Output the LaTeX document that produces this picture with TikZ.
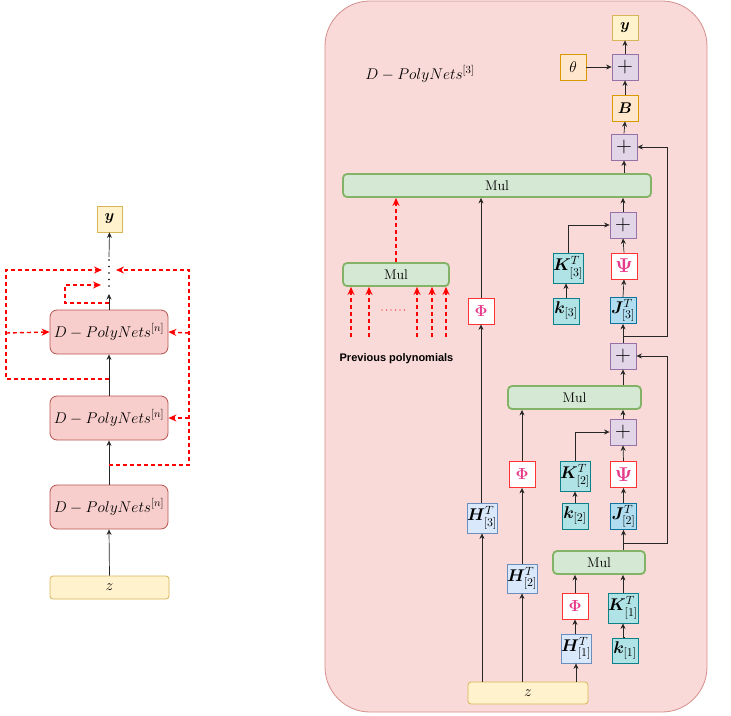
\documentclass[tikz,border=0pt]{standalone}
\usepackage{fix-cm}
\usepackage{amsmath,bm}
\usepackage{fontspec}
\newfontfamily\helv{Liberation Sans}
\usetikzlibrary{arrows.meta}
\definecolor{yelF}{HTML}{FFF2CC}\definecolor{yelD}{HTML}{D6B656}
\definecolor{redF}{HTML}{F8CECC}\definecolor{redD}{HTML}{B85450}
\definecolor{bigF}{HTML}{FADAD8}\definecolor{bigD}{HTML}{D38F8C}
\definecolor{purF}{HTML}{E1D5E7}\definecolor{purD}{HTML}{9673A6}
\definecolor{orF}{HTML}{FFE6CC}\definecolor{orD}{HTML}{D79B00}
\definecolor{grF}{HTML}{D5E8D4}\definecolor{grD}{HTML}{82B366}
\definecolor{blF}{HTML}{DAE8FC}\definecolor{blD}{HTML}{6C8EBF}
\definecolor{teF}{HTML}{B0E3E6}\definecolor{teD}{HTML}{0E8088}
\definecolor{jF}{HTML}{B1DDF0}\definecolor{jD}{HTML}{10739E}
\definecolor{fR}{HTML}{FF3333}\definecolor{pinkT}{HTML}{E63B8A}
\begin{document}
\begin{tikzpicture}[x=1pt,y=-1pt,font=\fontsize{14}{17}\selectfont,
  >={Stealth[length=5.5pt,width=5pt]},
  ln/.style={draw=black!85,line width=0.7pt},
  arr/.style={ln,->},
  rdl/.style={draw=red,line width=1.4pt,dash pattern=on 4pt off 3pt},
  rd/.style={rdl,-{Stealth[length=8pt,width=7pt]}},
  bx/.style={draw,line width=0.8pt,inner sep=0pt,minimum width=26pt,minimum height=26pt},
  lab/.style={font=\fontsize{17}{19}\selectfont},
  big/.style={font=\fontsize{15.5}{18}\selectfont},
  yel/.style={bx,fill=yelF,draw=yelD},
  redb/.style={bx,big,fill=redF,draw=redD,rounded corners=7pt,minimum width=118pt,minimum height=44pt},
  pur/.style={bx,fill=purF,draw=purD},
  ora/.style={bx,fill=orF,draw=orD},
  grn/.style={bx,fill=grF,draw=grD,line width=1.8pt,rounded corners=4pt,minimum height=23pt},
  blu/.style={bx,lab,fill=blF,draw=blD,minimum width=30pt,minimum height=30pt},
  tea/.style={bx,lab,fill=teF,draw=teD},
  jbx/.style={bx,lab,fill=jF,draw=jD},
  fn/.style={bx,fill=white,draw=fR,text=pinkT,font=\fontsize{16}{16}\selectfont},
  plus/.style={pur,font=\fontsize{22}{22}\selectfont}
]
\useasboundingbox (0,0) rectangle (731,715);
% ---------------- left ----------------
\node[yel,big,minimum width=25pt] (ly) at (109.5,219) {$\bm{y}$};
\node[redb] (lb1) at (109,332) {$D-PolyNets^{[n]}$};
\node[redb] (lb2) at (109,418) {$D-PolyNets^{[n]}$};
\node[redb] (lb3) at (109,507) {$D-PolyNets^{[n]}$};
\node[yel,big,rounded corners=3pt,minimum width=119pt,minimum height=23pt] (lz) at (109.5,587.5) {$z$};
\coordinate (dtop) at (109,257);
\coordinate (dbot) at (109,294);
\draw[black,line width=1.6pt,line cap=round,dash pattern=on 0pt off 6.5pt] (109,260) -- (109,292);
\draw[arr] (lb1.north) -- (dbot);
\draw[arr] (dtop) -- (ly.south);
\draw[arr] (lb2.north) -- (lb1.south);
\draw[arr] (lb3.north) -- (lb2.south);
\draw[arr] (lz.north) -- (lb3.south);
\coordinate (la) at (109,379);
\coordinate (lt1) at (102,270);
\coordinate (lt2) at (101,285);
\coordinate (lt3) at (116,270);
\coordinate (ls) at (109,303);
\coordinate (lr) at (109,465);
\draw[rd] (la) -- (6,379) -- (6,270) -- (lt1);
\draw[rd] (6,333) -- (lb1.west);
\draw[rd] (ls) -- (65,303) -- (65,285) -- (lt2);
\draw[rd] (lr) -- (189,465) -- (189,270) -- (lt3);
\draw[rd] (189,333) -- (lb1.east);
\draw[rd] (189,418) -- (lb2.east);
% ---------------- right ----------------
\draw[fill=bigF,draw=bigD,line width=0.8pt,rounded corners=45pt] (325,1) rectangle (707,712);
\node[big] (title) at (420,74) {$D-PolyNets^{[3]}$};
\node[yel,big,minimum height=25pt] (ry) at (625,27.5) {$\bm{y}$};
\node[plus] (p1) at (625,67) {$+$};
\node[ora,big] (th) at (573,67) {$\theta$};
\node[ora,big] (B) at (625,108) {$\bm{B}$};
\node[plus] (p2) at (624,147) {$+$};
\node[grn,minimum width=308pt] (m3) at (497,185.5) {Mul};
\node[plus] (p3) at (623,225) {$+$};
\node[fn,font=\fontsize{20}{20}\selectfont] (psi3) at (624,266) {$\bm{\Psi}$};
\node[jbx] (J3) at (623,310.5) {$\bm{J}^T_{[3]}$};
\node[tea,minimum width=30pt,minimum height=30pt] (K3) at (568,268) {$\bm{K}^T_{[3]}$};
\node[tea] (k3) at (566,311) {$\bm{k}_{[3]}$};
\node[fn] (phi3) at (481,311) {$\bm{\Phi}$};
\node[grn,minimum width=106pt] (mS) at (396,274.5) {Mul};
\node[font=\helv\bfseries\fontsize{11}{13}\selectfont] (prev) at (396.5,359) {Previous polynomials};
\node[plus] (p4) at (623,356) {$+$};
\node[grn,minimum width=133pt] (m2) at (574.5,397.5) {Mul};
\node[plus] (p5) at (623,432) {$+$};
\node[fn] (phi2) at (522,474.5) {$\bm{\Phi}$};
\node[tea,minimum width=30pt,minimum height=30pt] (K2) at (575,476) {$\bm{K}^T_{[2]}$};
\node[fn,font=\fontsize{20}{20}\selectfont] (psi2) at (623.5,474.5) {$\bm{\Psi}$};
\node[tea] (k2) at (575,516) {$\bm{k}_{[2]}$};
\node[jbx] (J2) at (623.5,516.5) {$\bm{J}^T_{[2]}$};
\node[blu] (H3) at (482,518) {$\bm{H}^T_{[3]}$};
\node[grn,minimum width=92pt] (m1) at (599,562.5) {Mul};
\node[blu,minimum height=29pt] (H2) at (522,578.5) {$\bm{H}^T_{[2]}$};
\node[fn] (phi1) at (575,606) {$\bm{\Phi}$};
\node[tea,minimum width=30pt,minimum height=30pt] (K1) at (623,608) {$\bm{K}^T_{[1]}$};
\node[blu,minimum height=29pt] (H1) at (576,648.5) {$\bm{H}^T_{[1]}$};
\node[tea,minimum height=25pt] (k1) at (625,650.5) {$\bm{k}_{[1]}$};
\node[yel,big,rounded corners=3pt,minimum width=120pt,minimum height=22pt] (rz) at (528,693) {$z$};
% connectors
\draw[arr] (th.east) -- (p1.west);
\draw[arr] (p1.north) -- (ry.south);
\draw[arr] (B.north) -- (p1.south);
\draw[arr] (p2.north) -- (B.south);
\draw[arr] (p2.south |- m3.north) -- (p2.south);
\draw[arr] (p3.north) -- (p3.north |- m3.south);
\draw[arr] (psi3.north) -- (p3.south);
\draw[arr] (J3.north) -- (psi3.south);
\draw[arr] (p4.north) -- (J3.south);
\coordinate (s1) at (623,336);
\draw[arr] (s1) -- (667,336) -- (667,147) -- (p2.east);
\draw[arr] (k3.north) -- (k3.north |- K3.south);
\draw[arr] (K3.north) |- (p3.west);
\draw[arr] (phi3.north) -- (phi3.north |- m3.south);
\draw[arr] (H3.north) -- (H3.north -| phi3.south) -- (phi3.south);
\draw[rd] (mS.north) -- (mS.north |- m3.south);
\foreach \xx in {351,369,417,432,446}{
  \coordinate (q\xx) at (\xx,337);
  \draw[rd] (q\xx) -- (q\xx |- mS.south);
}
\draw[draw=red,line width=1.2pt,line cap=round,dash pattern=on 0pt off 4.5pt] (382,310) -- (408,310);
\draw[arr] (m2.north -| p4.south) -- (p4.south);
\draw[arr] (p5.north) -- (p5.north |- m2.south);
\draw[arr] (psi2.north) -- (p5.south);
\draw[arr] (J2.north) -- (psi2.south);
\draw[arr] (m1.north -| J2.south) -- (J2.south);
\coordinate (s2) at (623,543);
\draw[arr] (s2) -- (667,543) -- (667,356) -- (p4.east);
\draw[arr] (K2.north) |- (p5.west);
\draw[arr] (k2.north) -- (K2.south);
\draw[arr] (phi2.north) -- (phi2.north |- m2.south);
\draw[arr] (H2.north) -- (phi2.south);
\draw[arr] (phi1.north) -- (phi1.north |- m1.south);
\draw[arr] (H1.north) -- (H1.north -| phi1.south) -- (phi1.south);
\draw[arr] (K1.north) -- (K1.north |- m1.south);
\draw[arr] (k1.north) -- (k1.north -| K1.south) -- (K1.south);
\draw[arr] (rz.north -| H3.south) -- (H3.south);
\draw[arr] (rz.north -| H2.south) -- (H2.south);
\draw[arr] (rz.north -| H1.south) -- (H1.south);
\end{tikzpicture}
\end{document}
